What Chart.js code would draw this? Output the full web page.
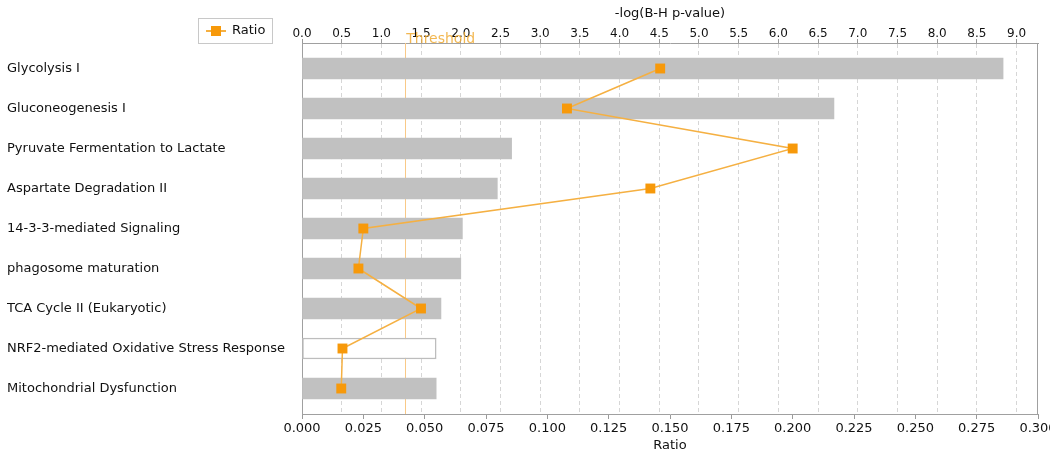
<!DOCTYPE html>
<html lang="en">
    <head>
        <meta charset="UTF-8" />
        <title>Pathway ratio chart</title>
        <style>
            html, body {
                margin: 0;
                padding: 0;
                background: #ffffff;
            }
            .chartBox {
                width: 1050px;
                height: 454px;
            }
        </style>
    </head>
    <body>
        <div class="chartBox">
            <canvas id="pathwayChart"></canvas>
        </div>

        <script src="https://cdn.jsdelivr.net/npm/chart.js"></script>

        <script>
            // data
            const pathways = [
                "Glycolysis I",
                "Gluconeogenesis I",
                "Pyruvate Fermentation to Lactate",
                "Aspartate Degradation II",
                "14-3-3-mediated Signaling",
                "phagosome maturation",
                "TCA Cycle II (Eukaryotic)",
                "NRF2-mediated Oxidative Stress Response",
                "Mitochondrial Dysfunction",
            ];
            const logPValues = [8.83, 6.70, 2.64, 2.46, 2.02, 2.00, 1.75, 1.69, 1.69];
            const ratios = [0.146, 0.108, 0.200, 0.142, 0.025, 0.023, 0.0485, 0.0165, 0.016];
            const threshold = 1.3;
            const topTicks = [0, 0.5, 1, 1.5, 2, 2.5, 3, 3.5, 4, 4.5, 5, 5.5, 6, 6.5, 7, 7.5, 8, 8.5, 9];
            const ratioTicks = [0, 0.025, 0.05, 0.075, 0.1, 0.125, 0.15, 0.175, 0.2, 0.225, 0.25, 0.275, 0.3];

            const FONT = "'DejaVu Sans', Verdana, sans-serif";
            const ORANGE_LINE = "#f5b042";
            const ORANGE_MARK = "#f7990a";

            // legend box, frame and threshold line
            const extras = {
                id: "extras",
                beforeDatasetsDraw(chart) {
                    const { ctx, chartArea } = chart;
                    const xs = chart.scales.x;
                    const tx = Math.round(xs.getPixelForValue(threshold)) + 0.5;
                    ctx.save();
                    ctx.strokeStyle = "#f9c987";
                    ctx.lineWidth = 1;
                    ctx.beginPath();
                    ctx.moveTo(tx, chartArea.top);
                    ctx.lineTo(tx, chartArea.bottom);
                    ctx.stroke();
                    ctx.restore();
                },
                afterDraw(chart) {
                    const { ctx, chartArea } = chart;
                    const xs = chart.scales.x;
                    ctx.save();
                    // right edge of the frame
                    ctx.strokeStyle = "#a0a0a0";
                    ctx.lineWidth = 1;
                    ctx.beginPath();
                    ctx.moveTo(Math.round(chartArea.right) - 0.5, chartArea.top);
                    ctx.lineTo(Math.round(chartArea.right) - 0.5, chartArea.bottom);
                    ctx.stroke();

                    // threshold label
                    ctx.fillStyle = "rgba(240, 170, 50, 0.85)";
                    ctx.font = "14px " + FONT;
                    ctx.textAlign = "left";
                    ctx.textBaseline = "middle";
                    ctx.fillText("Threshold", xs.getPixelForValue(threshold) + 1, 39);

                    // legend
                    ctx.strokeStyle = "#c8c8c8";
                    ctx.strokeRect(198.5, 18.5, 74, 25);
                    ctx.strokeStyle = ORANGE_LINE;
                    ctx.lineWidth = 2;
                    ctx.beginPath();
                    ctx.moveTo(206, 31);
                    ctx.lineTo(226, 31);
                    ctx.stroke();
                    ctx.fillStyle = ORANGE_MARK;
                    ctx.fillRect(211, 26, 10, 10);
                    ctx.fillStyle = "#111";
                    ctx.font = "13px " + FONT;
                    ctx.fillText(chart.data.datasets[1].label, 232, 31);
                    ctx.restore();
                },
            };

            const data = {
                datasets: [
                    {
                        type: "bar",
                        label: "-log(B-H p-value)",
                        data: logPValues.map((v, i) => ({ x: v, y: i })),
                        xAxisID: "x",
                        yAxisID: "y",
                        backgroundColor: (c) => (c.dataIndex === 7 ? "#ffffff" : "#c1c1c1"),
                        borderColor: (c) => (c.dataIndex === 7 ? "#bdbdbd" : "#c1c1c1"),
                        borderWidth: (c) => (c.dataIndex === 7 ? 1.5 : 0),
                        borderSkipped: false,
                        barThickness: 21,
                        order: 2,
                    },
                    {
                        type: "line",
                        label: "Ratio",
                        data: ratios.map((v, i) => ({ x: v, y: i })),
                        xAxisID: "x2",
                        yAxisID: "y",
                        borderColor: ORANGE_LINE,
                        borderWidth: 1.5,
                        pointStyle: "rect",
                        pointRadius: 7,
                        pointBackgroundColor: ORANGE_MARK,
                        pointBorderColor: ORANGE_MARK,
                        pointBorderWidth: 0,
                        tension: 0,
                        order: 1,
                    },
                ],
            };

            const config = {
                data: data,
                plugins: [extras],
                options: {
                    indexAxis: "y",
                    responsive: true,
                    maintainAspectRatio: false,
                    animation: false,
                    layout: { padding: { left: 7, right: 12, top: 0, bottom: 0 } },
                    plugins: {
                        legend: { display: false },
                        tooltip: { enabled: false },
                    },
                    scales: {
                        x: {
                            type: "linear",
                            position: "top",
                            min: 0,
                            max: 9.27,
                            afterBuildTicks: (s) => {
                                s.ticks = topTicks.map((v) => ({ value: v }));
                            },
                            afterFit: (s) => {
                                s.height = 43;
                                s.paddingLeft = 0;
                                s.paddingRight = 0;
                            },
                            ticks: {
                                callback: (v) => Number(v).toFixed(1),
                                font: { family: FONT, size: 12 },
                                color: "#111",
                                padding: -2,
                                maxRotation: 0,
                                autoSkip: false,
                            },
                            title: {
                                display: true,
                                text: "-log(B-H p-value)",
                                font: { family: FONT, size: 13 },
                                color: "#111",
                                padding: { top: 6, bottom: 0 },
                            },
                            grid: { color: "#d6d6d6", tickColor: "#9a9a9a", tickLength: 4 },
                            border: { color: "#a0a0a0", dash: [4, 3] },
                        },
                        x2: {
                            type: "linear",
                            position: "bottom",
                            min: 0,
                            max: 0.3,
                            afterBuildTicks: (s) => {
                                s.ticks = ratioTicks.map((v) => ({ value: v }));
                            },
                            afterFit: (s) => {
                                s.height = 40;
                                s.paddingLeft = 0;
                                s.paddingRight = 0;
                            },
                            ticks: {
                                callback: (v) => Number(v).toFixed(3),
                                font: { family: FONT, size: 13 },
                                color: "#111",
                                padding: 2,
                                maxRotation: 0,
                                autoSkip: false,
                            },
                            title: {
                                display: true,
                                text: "Ratio",
                                font: { family: FONT, size: 13 },
                                color: "#111",
                                padding: { top: 0, bottom: 1 },
                            },
                            grid: { drawOnChartArea: false, tickColor: "#9a9a9a", tickLength: 5 },
                            border: { color: "#a0a0a0" },
                        },
                        y: {
                            type: "linear",
                            reverse: true,
                            offset: false,
                            min: -0.6375,
                            max: 8.6375,
                            afterBuildTicks: (s) => {
                                s.ticks = pathways.map((_, i) => ({ value: i }));
                            },
                            afterFit: (s) => {
                                s.width = 295;
                            },
                            ticks: {
                                callback: (v) => pathways[v],
                                crossAlign: "far",
                                font: { family: FONT, size: 13 },
                                color: "#111",
                                autoSkip: false,
                            },
                            grid: { display: false, drawTicks: false, offset: false },
                            border: { color: "#a0a0a0" },
                        },
                    },
                },
            };

            const pathwayChart = new Chart(document.getElementById("pathwayChart"), config);
        </script>
    </body>
</html>
